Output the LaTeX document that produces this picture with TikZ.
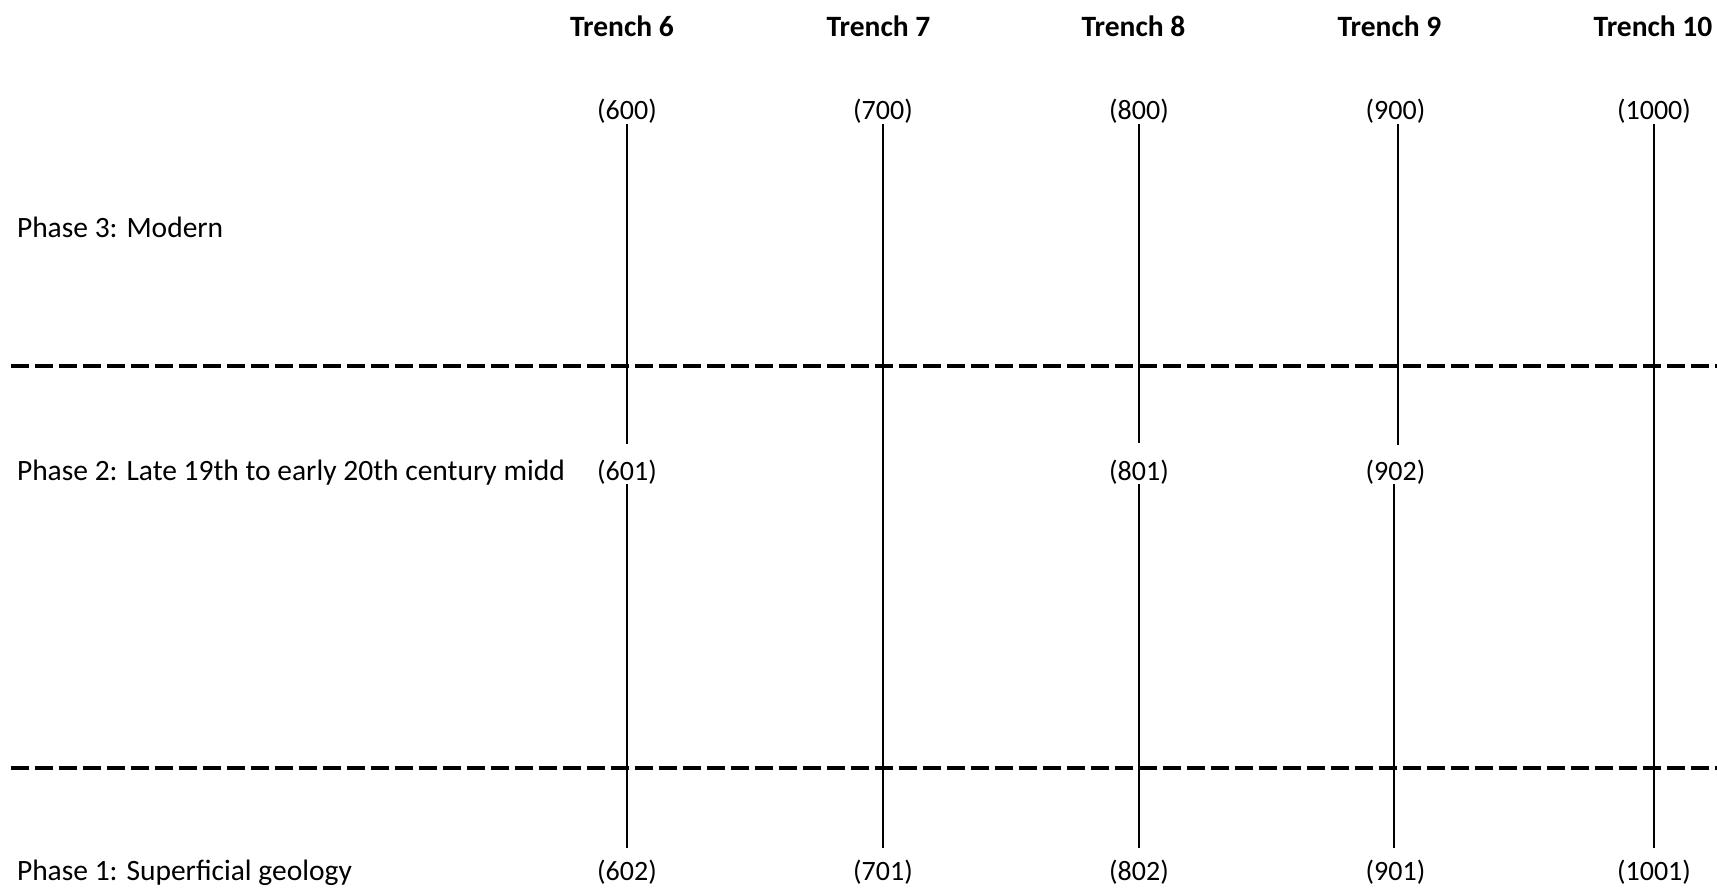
\documentclass[tikz,border=0pt]{standalone}
\usepackage{fontspec}
\setmainfont{Carlito}
\begin{document}
\begin{tikzpicture}[x=1pt,y=-1pt,
  lbl/.style={inner sep=0pt,outer sep=0pt,anchor=base,font=\fontsize{28}{34}\selectfont,text height=20pt,text depth=4pt},
  hdr/.style={inner sep=0pt,outer sep=0pt,anchor=base,font=\fontsize{29.5}{34}\selectfont\bfseries},
  phase/.style={inner sep=0pt,outer sep=0pt,anchor=base west,font=\fontsize{29.5}{34}\selectfont},
  vline/.style={draw=black,line width=2pt},
  phaseline/.style={draw=black,line width=4pt,dash pattern=on 18pt off 6pt}]
\useasboundingbox (0,0) rectangle (1717,888);
% headers
\node[hdr] (h6) at (622,36.5) {Trench 6};
\node[hdr] (h7) at (878.5,36.5) {Trench 7};
\node[hdr] (h8) at (1133.5,36.5) {Trench 8};
\node[hdr] (h9) at (1389.5,36.5) {Trench 9};
\node[hdr] (h10) at (1653,36.5) {Trench 10};
% phase labels
\node[phase] (p3) at (17,237) {Phase 3: Modern};
\node[phase] (p2) at (17,480) {Phase 2: Late 19th to early 20th century midd};
\node[phase] (p1) at (17,880) {Phase 1: Superficial geology};
% context labels
\node[lbl] (l600) at (627,120) {(600)};
\node[lbl] (l601) at (627,480) {(601)};
\node[lbl] (l602) at (627,880) {(602)};
\node[lbl] (l700) at (883,120) {(700)};
\node[lbl] (l701) at (883,880) {(701)};
\node[lbl] (l800) at (1139,120) {(800)};
\node[lbl] (l801) at (1139,480) {(801)};
\node[lbl] (l802) at (1139,880) {(802)};
\node[lbl] (l900) at (1395.5,120) {(900)};
\node[lbl] (l902) at (1395.5,480) {(902)};
\node[lbl] (l901) at (1395.5,880) {(901)};
\node[lbl] (l1000) at (1654,120) {(1000)};
\node[lbl] (l1001) at (1654,880) {(1001)};
% phase boundaries
\coordinate (d1a) at (11,366);
\coordinate (d1b) at (1717,366);
\coordinate (d2a) at (11,768);
\coordinate (d2b) at (1717,768);
\draw[phaseline] (d1a) -- (d1b);
\draw[phaseline] (d2a) -- (d2b);
% stratigraphic links
\draw[vline] (l600.south) -- ([yshift=16pt]l601.north);
\draw[vline] (l601.south) -- ([yshift=12pt]l602.north);
\draw[vline] (l700.south) -- ([yshift=12pt]l701.north);
\draw[vline] (l800.south) -- ([yshift=17pt]l801.north);
\draw[vline] (l801.south) -- ([yshift=12pt]l802.north);
\draw[vline] ([xshift=2.5pt]l900.south) -- ([xshift=2.5pt,yshift=15pt]l902.north);
\draw[vline] ([xshift=-1.5pt]l902.south) -- ([xshift=-1.5pt,yshift=12pt]l901.north);
\draw[vline] (l1000.south) -- ([yshift=12pt]l1001.north);
\end{tikzpicture}
\end{document}
